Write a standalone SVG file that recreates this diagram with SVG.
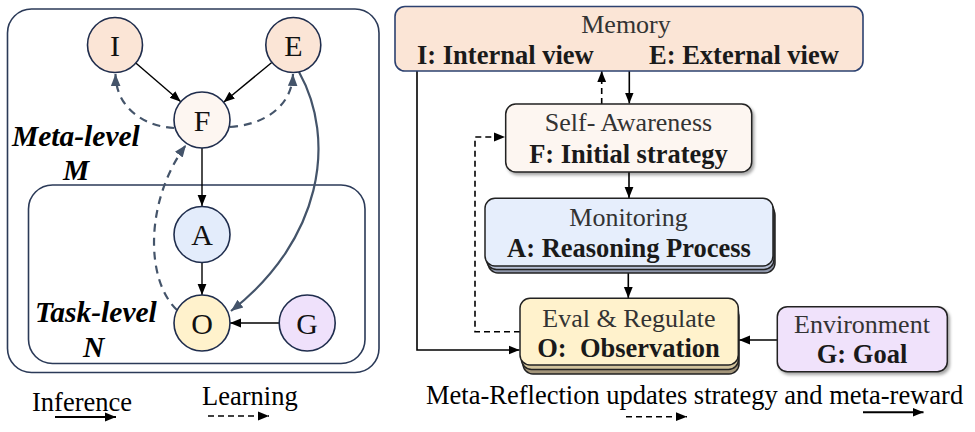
<svg xmlns="http://www.w3.org/2000/svg" width="975" height="432" viewBox="0 0 975 432">
<defs>
  <style>
    .lbl { font-family: "Liberation Serif", "Times New Roman", serif; font-size: 30px; fill: #111; text-anchor: middle; }
    .lvl { font-family: "Liberation Serif", "Times New Roman", serif; font-size: 29.5px; font-weight: bold; font-style: italic; fill: #000; }
    .reg { font-family: "Liberation Serif", "Times New Roman", serif; font-size: 26px; fill: #333; text-anchor: middle; }
    .bld { font-family: "Liberation Serif", "Times New Roman", serif; font-size: 26.5px; font-weight: bold; fill: #1a1a1a; text-anchor: middle; }
    .leg { font-family: "Liberation Serif", "Times New Roman", serif; font-size: 26.5px; fill: #000; }
    .circ { stroke: #1f2d4d; stroke-width: 1.6; }
    .frame { fill: none; stroke: #2b3a58; stroke-width: 1.6; }
    .box { stroke: #222; stroke-width: 1.5; }
    .inf { fill: none; stroke: #000; stroke-width: 1.4; }
    .lrn { fill: none; stroke: #44546a; stroke-width: 2.2; stroke-dasharray: 8 6; }
    .slate { fill: none; stroke: #44546a; stroke-width: 2.2; }
    .rs { fill: none; stroke: #000; stroke-width: 1.6; }
    .rd { fill: none; stroke: #000; stroke-width: 1.6; stroke-dasharray: 6 4; }
  </style>
  <marker id="ah" viewBox="0 0 10 10" refX="10" refY="5" markerWidth="11" markerHeight="11" markerUnits="userSpaceOnUse" orient="auto">
    <path d="M0,1 L10,5 L0,9 z" fill="#000"/>
  </marker>
  <marker id="ahs" viewBox="0 0 10 10" refX="10" refY="5" markerWidth="12" markerHeight="12" markerUnits="userSpaceOnUse" orient="auto">
    <path d="M0,1 L10,5 L0,9 z" fill="#44546a"/>
  </marker>
  <filter id="sh" x="-10%" y="-10%" width="125%" height="140%">
    <feDropShadow dx="2" dy="2.5" stdDeviation="1.5" flood-color="#000" flood-opacity="0.35"/>
  </filter>
</defs>

<!-- Left panel frames -->
<g id="meta-frame">
  <rect class="frame" x="7.5" y="9" width="371.5" height="363.5" rx="24"/>
  <text class="lvl" x="12" y="146">Meta-level</text>
  <text class="lvl" x="63" y="180">M</text>
</g>
<g id="task-frame">
  <rect class="frame" x="28.5" y="185" width="336.5" height="178.5" rx="24"/>
  <text class="lvl" x="35" y="322">Task-level</text>
  <text class="lvl" x="83" y="357">N</text>
</g>

<!-- Left connectors -->
<g id="left-connectors">
  <line class="inf" x1="135.8" y1="63" x2="180.8" y2="101.7" marker-end="url(#ah)"/>
  <line class="inf" x1="271.8" y1="62.5" x2="223.6" y2="102.2" marker-end="url(#ah)"/>
  <line class="inf" x1="202" y1="148" x2="202" y2="206" marker-end="url(#ah)"/>
  <line class="inf" x1="202" y1="262.5" x2="202" y2="295" marker-end="url(#ah)"/>
  <line class="inf" x1="279.5" y1="323" x2="230" y2="323" marker-end="url(#ah)"/>
  <path class="lrn" d="M174,128 C150,127 116,112 115.5,74" marker-end="url(#ahs)"/>
  <path class="lrn" d="M230,127 C262,125 292,108 293,74" marker-end="url(#ahs)"/>
  <path class="lrn" d="M177,310 C145,280 145,200 186,145" marker-end="url(#ahs)"/>
  <path class="slate" d="M299,72 C337,140 322,240 231,311" marker-end="url(#ahs)"/>
</g>

<!-- Left nodes -->
<g id="node-I"><circle class="circ" cx="115" cy="45" r="27.5" fill="#fbe5d6"/><text class="lbl" x="115" y="55.5">I</text></g>
<g id="node-E"><circle class="circ" cx="293.3" cy="45" r="27.5" fill="#fbe5d6"/><text class="lbl" x="293.3" y="55.5">E</text></g>
<g id="node-F"><circle class="circ" cx="202" cy="120" r="28" fill="#fdf6f1"/><text class="lbl" x="202" y="130.5">F</text></g>
<g id="node-A"><circle class="circ" cx="202" cy="234.5" r="28" fill="#e3ecfb"/><text class="lbl" x="202" y="245">A</text></g>
<g id="node-O"><circle class="circ" cx="202" cy="323" r="28" fill="#fff2cc"/><text class="lbl" x="202" y="333.5">O</text></g>
<g id="node-G"><circle class="circ" cx="307.2" cy="323" r="28" fill="#efe1fb"/><text class="lbl" x="307.2" y="333.5">G</text></g>

<!-- Left legend -->
<g id="legend-left">
  <text class="leg" x="32" y="411">Inference</text>
  <line x1="55" y1="417" x2="116" y2="417" stroke="#000" stroke-width="2" marker-end="url(#ah)"/>
  <text class="leg" x="202" y="405">Learning</text>
  <line x1="208" y1="416" x2="269" y2="416" stroke="#000" stroke-width="1.6" stroke-dasharray="6 4" marker-end="url(#ah)"/>
</g>

<!-- Right connectors -->
<g id="right-connectors">
  <path class="rs" d="M417,71 V350 H519.5" marker-end="url(#ah)"/>
  <path class="rd" d="M601.7,104 V71" marker-end="url(#ah)"/>
  <path class="rs" d="M629.3,71 V103.5" marker-end="url(#ah)"/>
  <path class="rd" d="M520,331.7 H475 V137 H505" marker-end="url(#ah)"/>
  <path class="rs" d="M629,172 V198" marker-end="url(#ah)"/>
  <path class="rs" d="M628.3,273 V298" marker-end="url(#ah)"/>
  <path class="rs" d="M777,340 H739" marker-end="url(#ah)"/>
</g>

<!-- Right nodes -->
<g id="memory">
  <rect x="395" y="6.5" width="468" height="64.5" rx="10" fill="#fbe5d6" stroke="#2c4170" stroke-width="1.6"/>
  <text class="reg" x="626" y="33">Memory</text>
  <text class="bld" x="417" y="64" style="text-anchor:start">I: Internal view</text>
  <text class="bld" x="649" y="64" style="text-anchor:start">E: External view</text>
</g>
<g id="self-awareness">
  <rect class="box" x="505.7" y="104" width="246" height="68" rx="10" fill="#fdf6f1" filter="url(#sh)"/>
  <text class="reg" x="628.5" y="131">Self- Awareness</text>
  <text class="bld" x="628.5" y="163">F: Initial strategy</text>
</g>
<g id="monitoring">
  <rect class="box" x="488" y="205" width="287" height="68" rx="10" fill="#8f97ab"/>
  <rect class="box" x="486.5" y="201.5" width="287.5" height="68" rx="10" fill="#b7c0d6"/>
  <rect class="box" x="485" y="198.3" width="288" height="67.7" rx="10" fill="#e6eefc"/>
  <text class="reg" x="628.5" y="226">Monitoring</text>
  <text class="bld" x="629" y="256.5">A: Reasoning Process</text>
</g>
<g id="eval-regulate">
  <rect class="box" x="523" y="307" width="216" height="67" rx="10" fill="#a3957a"/>
  <rect class="box" x="521.5" y="302.5" width="217" height="67" rx="10" fill="#d2c39c"/>
  <rect class="box" x="520" y="298.3" width="218.3" height="66.7" rx="10" fill="#fff2cc"/>
  <text class="reg" x="629" y="326.7">Eval &amp; Regulate</text>
  <text class="bld" x="628.5" y="356.7" xml:space="preserve">O:  Observation</text>
</g>
<g id="environment">
  <rect class="box" x="777.3" y="306.7" width="170" height="65" rx="10" fill="#f0e2fb" filter="url(#sh)"/>
  <text class="reg" x="862" y="332.7">Environment</text>
  <text class="bld" x="862" y="362.7">G: Goal</text>
</g>

<!-- Right legend -->
<g id="legend-right">
  <text class="leg" x="426" y="404">Meta-Reflection updates strategy and meta-reward</text>
  <line x1="626" y1="416.7" x2="687" y2="416.7" stroke="#000" stroke-width="1.6" stroke-dasharray="6 4" marker-end="url(#ah)"/>
  <line x1="863" y1="412.3" x2="923.5" y2="412.3" stroke="#000" stroke-width="2" marker-end="url(#ah)"/>
</g>
</svg>
